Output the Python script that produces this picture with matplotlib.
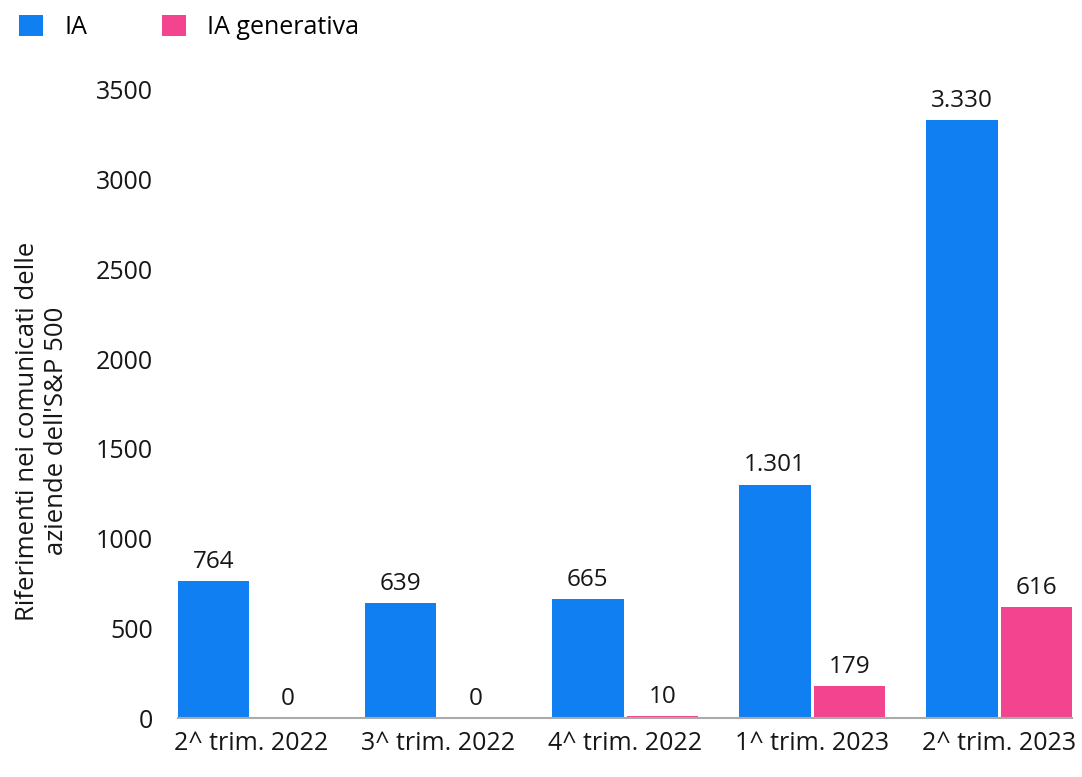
import numpy as np
import matplotlib.pyplot as plt

plt.rcParams['font.family'] = ['Open Sans', 'DejaVu Sans']
plt.rcParams['font.weight'] = 500

trimestri = ['2^ trim. 2022', '3^ trim. 2022', '4^ trim. 2022', '1^ trim. 2023', '2^ trim. 2023']
ia = [764, 639, 665, 1301, 3330]
ia_gen = [0, 0, 10, 179, 616]
etichette_ia = ['764', '639', '665', '1.301', '3.330']
etichette_gen = ['0', '0', '10', '179', '616']

blu = '#0f7ff2'
rosa = '#f2448f'

fig = plt.figure(figsize=(10.82, 7.77), dpi=100)
ax = fig.add_axes([0.1645, 0.0759, 0.8263, 0.8083])

x = np.arange(len(trimestri))
w = 0.39
b1 = ax.bar(x - w/2 - 0.004, ia, w - 0.008, color=blu, label='IA')
b2 = ax.bar(x + w/2 + 0.004, ia_gen, w - 0.008, color=rosa, label='IA generativa')

for r, t in zip(b1, etichette_ia):
    ax.text(r.get_x() + r.get_width()/2, r.get_height() + 40, t, ha='center', va='bottom',
            fontsize=17.5, color='#161616', clip_on=False)
for r, t in zip(b2, etichette_gen):
    ax.text(r.get_x() + r.get_width()/2, r.get_height() + 40, t, ha='center', va='bottom',
            fontsize=17.5, color='#161616', clip_on=False)

ax.set_xlim(-0.39, 4.39)
ax.set_ylim(0, 3500)
ax.set_yticks(np.arange(0, 3501, 500))
ax.set_xticks(x)
ax.set_xticklabels(trimestri)
ax.tick_params(axis='both', length=0, labelsize=18, colors='#161616')
ax.tick_params(axis='y', pad=18)
ax.tick_params(axis='x', pad=9)

for s in ['top', 'right', 'left']:
    ax.spines[s].set_visible(False)
ax.spines['bottom'].set_color('#aaaaaa')
ax.spines['bottom'].set_linewidth(1.5)

# titolo asse y a mano, per centrarlo come nell'originale
fig.text(0.0388, 0.445, "Riferimenti nei comunicati delle\naziende dell'S&P 500",
         rotation=90, ha='center', va='center', multialignment='center',
         fontsize=18.5, color='#161616', linespacing=1.2)

fig.legend(handles=[b1, b2], loc='upper left', bbox_to_anchor=(-0.003, 1.01), ncol=2,
           frameon=False, fontsize=18, handlelength=0.95, handleheight=0.95,
           columnspacing=3.0, handletextpad=0.85)

fig.savefig('out.png', dpi=100)
